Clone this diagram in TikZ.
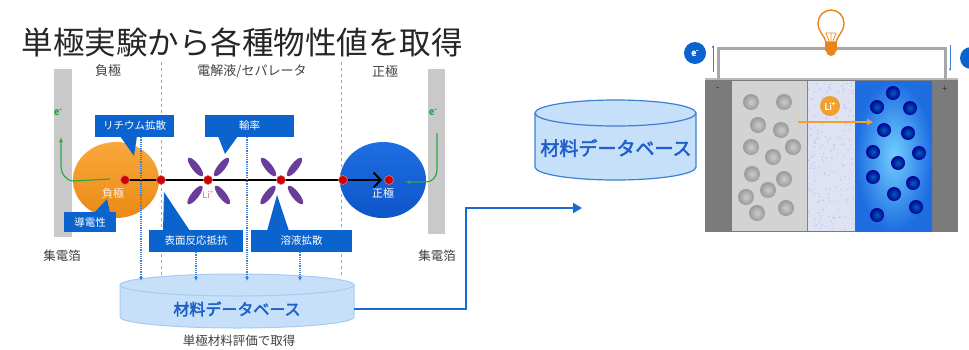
\documentclass[tikz,border=0pt]{standalone}
\usepackage{fontspec}
\newfontfamily\jp[AutoFakeBold=2.5]{Noto Sans CJK JP}
\usetikzlibrary{arrows.meta,calc,shapes.geometric}

\definecolor{cblue}{HTML}{0B63CE}
\definecolor{dbfill}{HTML}{C6E0FA}
\definecolor{dbline}{HTML}{A6CBF2}
\definecolor{dbline2}{HTML}{3D7FD0}
\definecolor{dbtext}{HTML}{1E5FC8}
\definecolor{connblue}{HTML}{1B6AD2}
\definecolor{orgtop}{HTML}{F9A83C}
\definecolor{orgbot}{HTML}{E98A14}
\definecolor{bluetop}{HTML}{1E6EE2}
\definecolor{bluebot}{HTML}{0D55C8}
\definecolor{solv}{HTML}{6A3D9A}
\definecolor{reddot}{HTML}{CC0000}
\definecolor{egreen}{HTML}{2EA84E}
\definecolor{foil}{HTML}{C9C9C9}
\definecolor{txtgray}{HTML}{404040}
\definecolor{dotblue}{HTML}{3A7FD8}
\definecolor{cellgray}{HTML}{7B7B7B}
\definecolor{anode}{HTML}{D3D3D3}
\definecolor{sepfill}{HTML}{DDE3F3}
\definecolor{sepline}{HTML}{4A90E0}
\definecolor{wire}{HTML}{A8A8A8}
\definecolor{bulb}{HTML}{E8861C}
\definecolor{ionorange}{HTML}{F0A030}

\tikzset{
  callout/.style={fill=cblue, text=white, inner sep=0pt, minimum height=22pt,
    font=\jp\fontsize{10.5}{12}\selectfont},
  rdot/.style={circle, fill=reddot, draw=reddot!55!white, line width=0.6pt,
    minimum size=9pt, inner sep=0pt},
  region/.style={font=\jp\fontsize{13}{15}\selectfont, text=txtgray},
  divider/.style={draw=gray!70, dashed, line width=0.5pt},
  measure/.style={draw=dotblue, densely dotted, line width=1.2pt,
    -{Latex[length=4pt,width=4pt]}},
  eflow/.style={draw=egreen, line width=1.2pt, -{Latex[length=5pt,width=4pt]}},
  solvent/.style={ellipse, fill=solv, minimum width=23pt, minimum height=7.5pt, inner sep=0pt},
  gball/.style={inner color=gray!40, outer color=gray!80},
  bball/.style={inner color=blue!45!cyan!70!black, outer color=blue!60!black},
}

\begin{document}
\begin{tikzpicture}[x=1pt, y=-1pt, font=\jp]
\useasboundingbox (0,0) rectangle (969,349);
\clip (0,0) rectangle (969,349);

% ---------------- left: single-electrode experiments ----------------
\node[font=\jp\fontsize{31.5}{34}\selectfont, text=black!85] (title) at (242,42) {単極実験から各種物性値を取得};

\node[region] (neg) at (108,71) {負極};
\node[region] (elec) at (252,71) {電解液/セパレータ};
\node[region] (pos) at (385,72) {正極};

% region dividers
\draw[divider] (161,62) -- (161,278);
\draw[divider] (341,62) -- (341,278);

% current collector foils
\fill[foil] (54,69) rectangle (72,237);
\fill[foil] (428,69) rectangle (445,234);
\node[text=egreen, font=\jp\bfseries\fontsize{10}{11}\selectfont] (eL) at (58,112) {e\textsuperscript{-}};
\node[text=egreen, font=\jp\bfseries\fontsize{10}{11}\selectfont] (eR) at (433,112) {e\textsuperscript{-}};
\node[region, font=\jp\fontsize{12.5}{14}\selectfont] (foilL) at (62,256) {集電箔};
\node[region, font=\jp\fontsize{12.5}{14}\selectfont] (foilR) at (437,256) {集電箔};

% active material particles
\shade[top color=orgtop, bottom color=orgbot] (116,180) ellipse[x radius=43, y radius=38];
\shade[top color=bluetop, bottom color=bluebot] (383,180) ellipse[x radius=43, y radius=38];
\node[text=white!90!orange, font=\jp\fontsize{11}{12}\selectfont] (negp) at (113,193) {負極};
\node[text=white, font=\jp\fontsize{11}{12}\selectfont] (posp) at (383,193) {正極};

% points along the ion path
\coordinate (d1) at (125,180);
\coordinate (d2) at (161,180);
\coordinate (d3) at (208,180);
\coordinate (d4) at (281,180);
\coordinate (d5) at (343,180);
\coordinate (d6) at (389,180);
\coordinate (aend) at (382,180);

% solvent molecules radiating from the two ion positions
\foreach \c in {d3,d4}{
  \node[solvent, rotate=-52] at ($(\c)+(-12.5,-13)$) {};
  \node[solvent, rotate=52]  at ($(\c)+(13.5,-13)$) {};
  \node[solvent, rotate=52]  at ($(\c)+(-13,15)$) {};
  \node[solvent, rotate=-52] at ($(\c)+(14.5,15)$) {};
}
\node[text=red!60!white, font=\jp\fontsize{9}{10}\selectfont] (liion) at (208,195) {Li\textsuperscript{+}};

% ion path arrow
\draw[line width=2.2pt, -{Straight Barb[length=7pt,width=15pt,line width=2pt]}] (d1) -- (aend);
\foreach \p in {d1,d2,d3,d4,d5,d6}{ \node[rdot] at (\p) {}; }

% electron flow in the foils
\coordinate (gL0) at (110,179);
\coordinate (gL1) at (61,137);
\draw[eflow] (gL0) -- (74,181) to[out=180, in=-90] (61,166) -- (gL1);
\coordinate (gR0) at (437,133);
\coordinate (gR1) at (405,182);
\draw[eflow] (gR0) -- (437,170) to[out=-90, in=0] (426,182) -- (gR1);

% callouts
\node[callout, minimum width=79pt] (c1) at (134.5,126) {リチウム拡散};
\fill[cblue] (120,136) -- (134,156) -- (137,136) -- cycle;
\node[callout, minimum width=89pt] (c2) at (249.5,126) {輸率};
\fill[cblue] (218,136) -- (225,154) -- (238,136) -- cycle;
\node[callout, minimum width=52pt, minimum height=20pt] (c3) at (90,222) {導電性};
\fill[cblue] (94,213) -- (107,199) -- (110,213) -- cycle;
\node[callout, minimum width=94pt] (c4) at (196,241) {表面反応抵抗};
\fill[cblue] (163,231) -- (164,192) -- (190,231) -- cycle;
\node[callout, minimum width=101pt] (c5) at (301.5,241) {溶液拡散};
\fill[cblue] (267,231) -- (277,195) -- (289,231) -- cycle;

% database collecting the measured values
\fill[dbfill] (120,285) -- (120,317) arc[start angle=180, end angle=0, x radius=117, y radius=11] -- (354,285) -- cycle;
\draw[dbline, line width=1pt] (120,285) -- (120,317) arc[start angle=180, end angle=0, x radius=117, y radius=11] -- (354,285);
\draw[dbline, line width=1pt, fill=dbfill] (237,285) ellipse[x radius=117, y radius=11];
\node[text=dbtext, font=\jp\bfseries\fontsize{16}{18}\selectfont] (db1) at (237,309) {材料データベース};
\node[region, font=\jp\fontsize{12.5}{14}\selectfont] (dbnote) at (239,341) {単極材料評価で取得};

\coordinate (t1) at (141,281);
\coordinate (t2) at (196,281);
\coordinate (t3) at (247,281);
\coordinate (t4) at (300,281);
\draw[measure] (t1 |- c1.south) -- (t1);
\draw[measure] (t2 |- c4.south) -- (t2);
\draw[measure] (t3 |- c2.south) -- (t3);
\draw[measure] (t4 |- c5.south) -- (t4);

% ---------------- right: full cell ----------------
\coordinate (dbin) at (582,208);
\draw[connblue, line width=2.2pt, -{Triangle[length=9pt,width=10pt]}] (354,309) -- (466,309) |- (dbin);

\fill[dbfill] (535,113) -- (535,167) arc[start angle=180, end angle=0, x radius=80.5, y radius=13] -- (696,113) -- cycle;
\draw[dbline2, line width=1.2pt] (535,113) -- (535,167) arc[start angle=180, end angle=0, x radius=80.5, y radius=13] -- (696,113);
\draw[dbline2, line width=1.2pt, fill=dbfill] (615.5,113) ellipse[x radius=80.5, y radius=13];
\node[text=dbtext, font=\jp\bfseries\fontsize{19}{21}\selectfont] (db2) at (616,148) {材料データベース};

% cell body
\fill[cellgray] (705,78) rectangle (958,232);
\fill[anode] (732,81) rectangle (807,231);
\fill[sepfill] (807,81) rectangle (855,231);
\pgfmathsetseed{7}
\foreach \i in {1,...,320}{
  \pgfmathsetmacro{\sx}{808+46*rnd}
  \pgfmathsetmacro{\sy}{82+148*rnd}
  \pgfmathsetmacro{\sc}{rnd}
  \ifdim\sc pt<0.5pt
    \fill[blue!25!white] (\sx,\sy) circle (0.8);
  \else
    \fill[magenta!18!white] (\sx,\sy) circle (0.8);
  \fi
}
\draw[sepline, line width=1pt] (807,81) -- (807,231);
\draw[sepline, line width=1pt] (855,81) -- (855,231);
\shade[inner color=blue!35!cyan!55!white, outer color=bluetop] (855.5,81) rectangle (932,231);
\draw[gray!55, line width=2pt] (705,79) -- (958,79);
\node[font=\fontsize{7}{8}\selectfont] (minus) at (718,89) {-};
\node[font=\fontsize{7}{8}\selectfont] (plus) at (945,89) {+};

% anode particles
\foreach \x/\y in {751/102,784/102,758/125,781/130,751/147,773/157,793/147,752/174,784/179,768/190,746/197,757/213,786/208}{
  \shade[gball] (\x,\y) circle (8);
}
% cathode particles
\foreach \x/\y in {893/93,877/107,910/108,884/130,908/133,873/152,919/153,898/163,873/177,913/183,894/194,916/207,877/215}{
  \shade[bball] (\x,\y) circle (7);
}

% lithium ion moving through the separator
\node[circle, fill=ionorange, minimum size=20pt, inner sep=0pt, text=white,
  font=\jp\bfseries\fontsize{9}{10}\selectfont] (li) at (830,106) {Li\textsuperscript{+}};
\coordinate (li0) at (798,122);
\coordinate (li1) at (873,122);
\draw[ionorange, line width=1.6pt, -{Triangle[length=6pt,width=6pt]}] (li0) -- (li1);

% external circuit with bulb
\coordinate (negterm) at (718,80);
\coordinate (posterm) at (945,80);
\coordinate (lamp) at (831,48);
\draw[wire, line width=3pt] (negterm) |- (lamp) -| (posterm);
\filldraw[fill=white, draw=bulb, line width=1.4pt]
  (826,42) .. controls (825,36) and (818,32) .. (818,23)
  arc[start angle=180, end angle=360, radius=13]
  .. controls (844,32) and (837,36) .. (836,42) -- cycle;
\draw[bulb, line width=0.8pt] (826,33) -- (829,41) (831,33) -- (831,41) (836,33) -- (833,41) (826,33) -- (836,33);
\fill[bulb] (825,42) rectangle (837,51);
\fill[bulb] (831,51) circle (5);

% electrons
\node[circle, fill=cblue, minimum size=22pt, inner sep=0pt, text=white,
  font=\jp\bfseries\fontsize{9}{10}\selectfont] (eL2) at (695,53) {e\textsuperscript{-}};
\node[circle, fill=cblue, minimum size=22pt, inner sep=0pt] (eR2) at (971,58) {};
\coordinate (eup0) at (713,72);
\coordinate (eup1) at (713,45);
\draw[dotblue, line width=0.6pt, -{Latex[length=2.5pt,width=2.5pt]}] (eup0) -- (eup1);
\coordinate (edn0) at (950,45);
\coordinate (edn1) at (950,71);
\draw[dotblue, line width=0.6pt, -{Latex[length=2.5pt,width=2.5pt]}] (edn0) -- (edn1);
\end{tikzpicture}
\end{document}
